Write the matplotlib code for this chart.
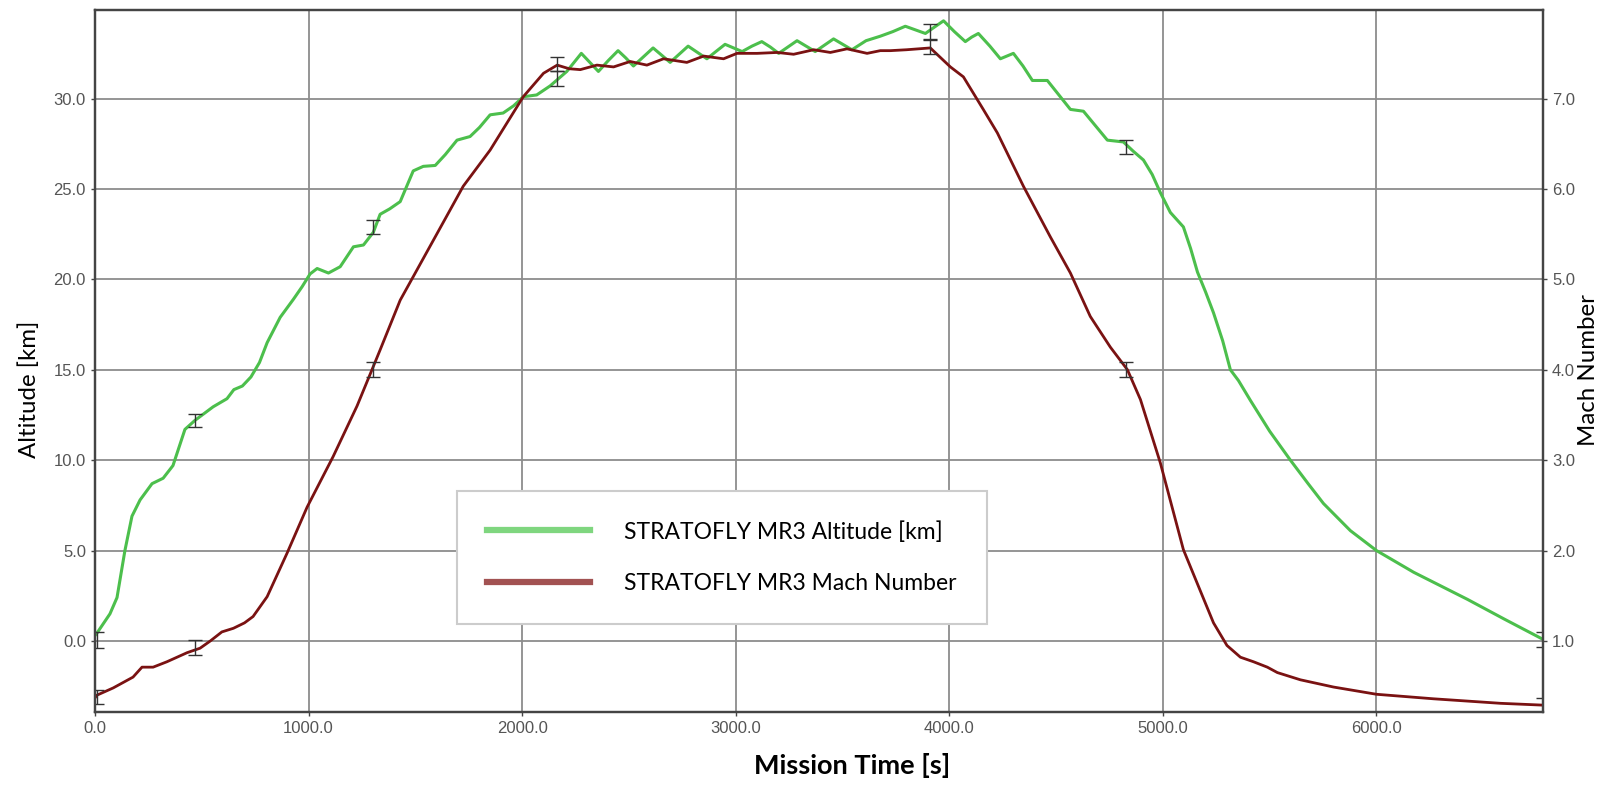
import matplotlib.pyplot as plt
from matplotlib.lines import Line2D

# altitude trace [km]
alt_t = [0, 10, 70, 103, 140, 173, 211, 267, 319, 365, 421, 468, 553, 618, 650, 690, 730, 770,
         806, 867, 929, 970, 1007, 1040, 1093, 1148, 1210, 1257, 1303, 1335, 1380, 1429, 1490,
         1537, 1593, 1640, 1695, 1756, 1800, 1850, 1911, 1960, 2005, 2068, 2131, 2209, 2277,
         2317, 2357, 2403, 2449, 2485, 2521, 2567, 2613, 2653, 2693, 2735, 2777, 2821, 2865,
         2907, 2950, 2990, 3030, 3076, 3122, 3162, 3201, 3244, 3287, 3330, 3372, 3415, 3458,
         3501, 3544, 3610, 3677, 3735, 3794, 3841, 3888, 3930, 3973, 4024, 4075,
         4105, 4136, 4190, 4239, 4270, 4300, 4345, 4389, 4425, 4459, 4513, 4567, 4598, 4628,
         4684, 4740, 4778, 4815, 4860, 4909, 4950, 4988, 5035, 5096, 5130, 5162, 5200, 5237,
         5280, 5316, 5354, 5410, 5500, 5597, 5680, 5752, 5878, 6000, 6174, 6426, 6600, 6778]
alt_km = [0.3, 0.45, 1.5, 2.4, 5.0, 6.9, 7.8, 8.7, 9.0, 9.7, 11.7, 12.2, 12.95, 13.4, 13.9, 14.1,
          14.6, 15.4, 16.5, 17.9, 18.9, 19.6, 20.3, 20.6, 20.35, 20.7, 21.8, 21.9, 22.6, 23.6,
          23.9, 24.3, 26.0, 26.25, 26.3, 26.9, 27.7, 27.9, 28.4, 29.1, 29.2, 29.6, 30.1, 30.2,
          30.7, 31.5, 32.5, 32.0, 31.5, 32.1, 32.65, 32.25, 31.8, 32.3, 32.8, 32.4, 32.0, 32.45,
          32.9, 32.55, 32.2, 32.6, 33.0, 32.8, 32.6, 32.9, 33.15, 32.85, 32.5, 32.85, 33.2,
          32.9, 32.6, 32.95, 33.3, 33.0, 32.7, 33.2, 33.45, 33.7, 34.0, 33.8, 33.6,
          33.95, 34.3, 33.7, 33.15, 33.4, 33.6, 32.9, 32.2, 32.35, 32.5, 31.8, 31.0, 31.0, 31.0,
          30.2, 29.4, 29.35, 29.3, 28.5, 27.7, 27.65, 27.6, 27.1, 26.6, 25.8, 24.8, 23.7, 22.9,
          21.7, 20.4, 19.3, 18.15, 16.6, 15.0, 14.4, 13.3, 11.6, 10.0, 8.7, 7.6, 6.1, 5.0, 3.8,
          2.3, 1.2, 0.1]

# mach trace
mach_t = [0, 9, 85, 178, 220, 272, 337, 431, 492, 540, 594, 648, 700, 740, 806, 899, 993, 1115,
          1227, 1302, 1335, 1429, 1490, 1600, 1724, 1850, 2005, 2100, 2164, 2220, 2272, 2350,
          2428, 2506, 2584, 2662, 2771, 2850, 2943, 3006, 3100, 3194, 3271, 3365, 3443, 3521,
          3615, 3677, 3724, 3800, 3911, 4005, 4066, 4159, 4225, 4347, 4473, 4567, 4660, 4754,
          4834, 4895, 4988, 5096, 5176, 5237, 5300, 5363, 5424, 5489, 5536, 5644, 5799, 6000,
          6267, 6581, 6778]
mach = [0.37, 0.40, 0.48, 0.60, 0.71, 0.71, 0.77, 0.87, 0.92, 1.0, 1.10, 1.14, 1.2, 1.27, 1.49,
        1.97, 2.48, 3.04, 3.6, 4.03, 4.22, 4.77, 5.03, 5.5, 6.03, 6.43, 7.02, 7.28, 7.37, 7.33,
        7.32, 7.37, 7.35, 7.41, 7.37, 7.44, 7.40, 7.47, 7.44, 7.50, 7.50, 7.51, 7.49, 7.54, 7.51,
        7.55, 7.50, 7.53, 7.53, 7.54, 7.56, 7.35, 7.24, 6.88, 6.62, 6.03, 5.47, 5.07, 4.59, 4.25,
        4.00, 3.67, 2.97, 2.01, 1.55, 1.20, 0.95, 0.82, 0.77, 0.71, 0.65, 0.57, 0.49, 0.41, 0.36,
        0.31, 0.29]

# error bars
err_t = [10, 468, 1302, 2164, 3911, 4829, 6778]
alt_err_c = [0.05, 12.2, 22.9, 31.1, 33.7, 27.33, 0.1]
alt_err = [0.45, 0.38, 0.4, 0.42, 0.4, 0.38, 0.42]
mach_err_c = [0.38, 0.93, 4.0, 7.38, 7.57, 4.0, 0.29]
mach_err = [0.08, 0.08, 0.085, 0.08, 0.08, 0.085, 0.08]

x_ticks = [0, 1000, 2000, 3000, 4000, 5000, 6000]
alt_ticks = [0, 5, 10, 15, 20, 25, 30]
mach_ticks = [1, 2, 3, 4, 5, 6, 7]

alt_lim = (-3.93, 34.9)

fig = plt.figure(figsize=(16.05, 7.85), dpi=100)
ax = fig.add_axes([0.0592, 0.093, 0.9022, 0.8943])
ax2 = ax.twinx()

ax.plot(alt_t, alt_km, color='#4cbf4c', lw=2.2, solid_joinstyle='round')
ax2.plot(mach_t, mach, color='#7a1212', lw=2, solid_joinstyle='round')
ax.errorbar(err_t, alt_err_c, yerr=alt_err, fmt='none', ecolor='#333333', elinewidth=1, capsize=5, capthick=1)
ax2.errorbar(err_t, mach_err_c, yerr=mach_err, fmt='none', ecolor='#333333', elinewidth=1, capsize=5, capthick=1)

ax.set_xlim(0, 6780)
ax.set_ylim(*alt_lim)
ax2.set_ylim(1 + alt_lim[0] / 5, 1 + alt_lim[1] / 5)

ax.set_xticks(x_ticks)
ax.set_xticklabels(['%.1f' % v for v in x_ticks])
ax.set_yticks(alt_ticks)
ax.set_yticklabels(['%.1f' % v for v in alt_ticks])
ax2.set_yticks(mach_ticks)
ax2.set_yticklabels(['%.1f' % v for v in mach_ticks])

ax.grid(True, color='#8c8c8c', lw=1.3)
ax.set_axisbelow(True)
for a in (ax, ax2):
    for s in a.spines.values():
        s.set_color('#444444')
        s.set_linewidth(1.6)
    a.tick_params(labelsize=12, labelcolor='#555555', color='#444444', length=3, width=1)
    for lab in a.get_xticklabels() + a.get_yticklabels():
        lab.set_family('Liberation Sans')

ax.set_xlabel('Mission Time [s]', fontsize=19.5, fontweight='bold', family='Lato')
ax.set_ylabel('Altitude [km]', fontsize=17.3, family='Lato')
ax2.set_ylabel('Mach Number', fontsize=17.3, family='Lato')
ax.xaxis.set_label_coords(0.523, -0.058)
ax.yaxis.set_label_coords(-0.038, 0.46)
ax2.yaxis.set_label_coords(1.024, 0.487)

handles = [Line2D([], [], color='#7fd67f', lw=4.5),
           Line2D([], [], color='#a25252', lw=4.5)]
leg = ax2.legend(handles, ['STRATOFLY MR3 Altitude [km]', 'STRATOFLY MR3 Mach Number'],
                 loc='lower left', bbox_to_anchor=(0.25, 0.125), fancybox=False,
                 prop={'family': 'Lato', 'size': 16.5}, handlelength=4.5, handletextpad=1.5,
                 borderpad=1.3, labelspacing=1.35, borderaxespad=0, framealpha=1)
leg.get_frame().set_edgecolor('#cccccc')
leg.get_frame().set_linewidth(1.5)

fig.savefig('out.png', dpi=100)
